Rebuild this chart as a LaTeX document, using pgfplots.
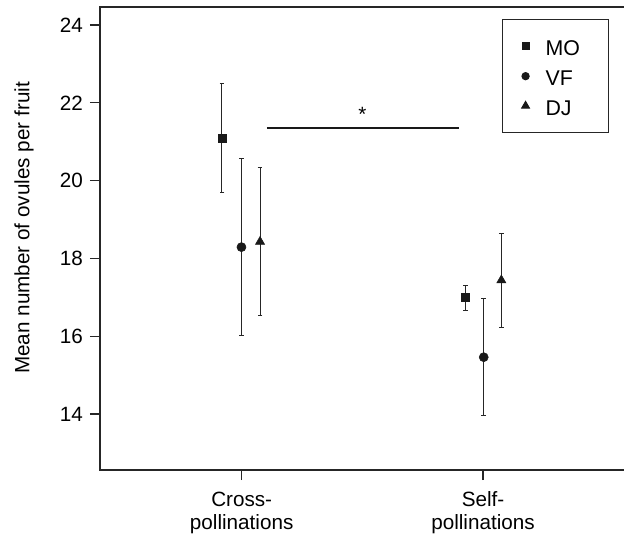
\documentclass[border=0pt]{standalone}
\usepackage{fontspec}
\setmainfont{Liberation Sans}
\usepackage{pgfplots}
\pgfplotsset{compat=1.18}
\begin{document}
\fontsize{15.5}{17.3}\selectfont
\begin{tikzpicture}
\useasboundingbox (-75pt,-51.75pt) rectangle (393pt,352.5pt);
\clip (-75pt,-51.75pt) rectangle (393pt,352.5pt);
\begin{axis}[
  at={(0,0)}, anchor=south west,
  scale only axis,
  width=394.5pt, height=347.25pt,
  xmin=0.4128, xmax=2.5926,
  ymin=12.56, ymax=24.463,
  axis line style={black!85, line width=0.9pt},
  xtick={1,2},
  xticklabels={Cross-\\pollinations, Self-\\pollinations},
  xticklabel style={align=center, yshift=-3.5pt, font=\fontsize{15.5}{17.3}\selectfont},
  ytick={14,16,18,20,22,24},
  yticklabel style={font=\fontsize{15.5}{17}\selectfont},
  /pgf/number format/assume math mode=true,
  tick align=outside,
  major tick length=7.5pt,
  tick style={black!85, line width=0.9pt},
  xtick pos=bottom, ytick pos=left,
  ylabel={Mean number of ovules per fruit},
  ylabel style={at={(axis description cs:-0.1445,0.523)}, anchor=center, font=\fontsize{15.5}{17}\selectfont},
  legend style={at={(axis description cs:0.7637,0.9733)}, anchor=north west,
    draw=black!85, line width=0.8pt, font=\fontsize{16}{17}\selectfont,
    inner xsep=0pt, inner ysep=10.5pt, row sep=3.4pt, column sep=0pt,
    nodes={inner sep=0pt}, cells={anchor=west}},
  legend image code/.code={\path[draw=none, fill=none] (0pt,-3pt) rectangle (32.5pt,3pt);
    \draw[#1, only marks] plot coordinates {(17.5pt,0pt)};},
  legend cell align=left,
  clip=false,
]
\addplot[black!90, only marks, mark=square*, mark size=3pt,
  legend image post style={mark size=2.6pt},
  error bars/.cd, y dir=both, y explicit,
  error bar style={black!85, line width=0.8pt},
  error mark options={black!85, line width=0.8pt, mark size=1.8pt, rotate=90}]
  coordinates {(0.918,21.10) +- (0,1.40) (1.928,16.99) +- (0,0.32)};
\addlegendentry{\rule[-5.45pt]{0pt}{22pt}\makebox[47.5pt][l]{MO}}
\addplot[black!90, only marks, mark=*, mark size=3.4pt,
  legend image post style={mark size=2.7pt},
  error bars/.cd, y dir=both, y explicit,
  error bar style={black!85, line width=0.8pt},
  error mark options={black!85, line width=0.8pt, mark size=1.8pt, rotate=90}]
  coordinates {(0.999,18.29) +- (0,2.27) (2.003,15.46) +- (0,1.50)};
\addlegendentry{\rule[-5.45pt]{0pt}{22pt}\makebox[47.5pt][l]{VF}}
\addplot[black!90, only marks, mark=triangle*, mark size=3.9pt,
  legend image post style={mark size=3.3pt},
  error bars/.cd, y dir=both, y explicit,
  error bar style={black!85, line width=0.8pt},
  error mark options={black!85, line width=0.8pt, mark size=1.8pt, rotate=90}]
  coordinates {(1.076,18.43) +- (0,1.90) (2.076,17.44) +- (0,1.21)};
\addlegendentry{\rule[-5.45pt]{0pt}{22pt}\makebox[47.5pt][l]{DJ}}
\addplot[black!90, line width=0.9pt, forget plot] coordinates {(1.104,21.35) (1.902,21.35)};
\node[font=\fontsize{15.5}{17}\selectfont] at (axis cs:1.5,21.70) {*};
\end{axis}
\end{tikzpicture}
\end{document}
